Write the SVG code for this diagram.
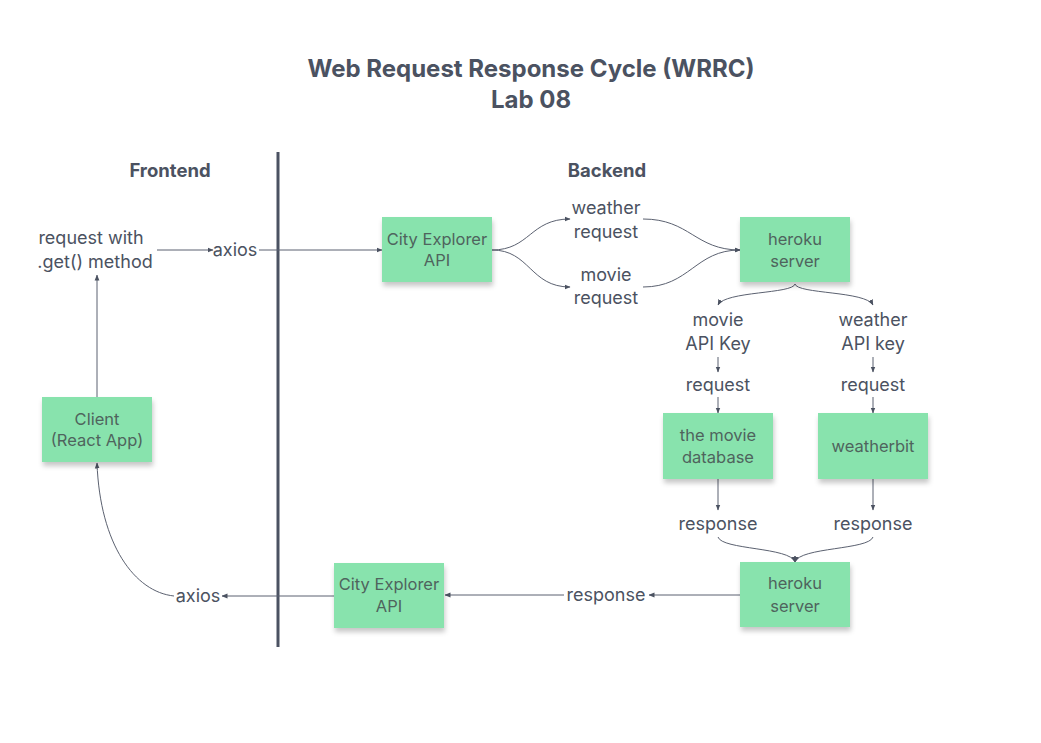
<svg xmlns="http://www.w3.org/2000/svg" width="1041" height="743" viewBox="0 0 1041 743">
<defs>
<filter id="sh" x="-20%" y="-20%" width="150%" height="160%">
<feDropShadow dx="1" dy="4" stdDeviation="2.5" flood-color="#000" flood-opacity="0.22"/>
</filter>
<marker id="ah" viewBox="0 0 6 6" refX="5.5" refY="3" markerWidth="6" markerHeight="6" markerUnits="userSpaceOnUse" orient="auto">
<path d="M0,0.6 L6,3 L0,5.4 Z" fill="#4b5261"/>
</marker>
<style>
.t{font-family:Inter,"Liberation Sans",sans-serif;fill:#4b5261;text-anchor:middle}
.h{font-weight:700}
.lb{font-size:18px}
.nt{font-size:16.5px;fill:#4f645d}
.box{fill:#88e3ad;filter:url(#sh)}
.c{fill:none;stroke:#5b6170;stroke-width:1;marker-end:url(#ah)}
</style>
</defs>
<rect width="1041" height="743" fill="#fff"/>
<g id="title">
<text class="t h" x="531" y="77" font-size="24">Web Request Response Cycle (WRRC)</text>
<text class="t h" x="531" y="108" font-size="24">Lab 08</text>
</g>
<g id="sections">
<text class="t h" x="170" y="177" font-size="18.5">Frontend</text>
<text class="t h" x="607" y="177" font-size="18.5">Backend</text>
<line x1="278" y1="152" x2="278" y2="647" stroke="#4b5262" stroke-width="3"/>
</g>
<g id="connectors">
<path class="c" d="M97,397 L97,275"/>
<path class="c" d="M157,250 L213,250"/>
<path class="c" d="M259,250 L382,250"/>
<path class="c" d="M492,250 C530,250 530,219 570,219"/>
<path class="c" d="M492,250 C530,250 530,287 570,287"/>
<path class="c" d="M643,219 C690,219 695,250 740,250"/>
<path class="c" d="M643,287 C690,287 695,250 740,250"/>
<path class="c" d="M795,284 C793,294 725,291 718,305"/>
<path class="c" d="M795,284 C797,294 866,291 873,305"/>
<path class="c" d="M718,357 L718,372"/>
<path class="c" d="M873,357 L873,372"/>
<path class="c" d="M718,397 L718,413"/>
<path class="c" d="M873,397 L873,413"/>
<path class="c" d="M718,479 L718,510"/>
<path class="c" d="M873,479 L873,510"/>
<path class="c" d="M718,537 C722,550 790,547 795,562"/>
<path class="c" d="M873,537 C869,550 800,547 795,562"/>
<path class="c" d="M740,595 L649,595"/>
<path class="c" d="M564,595 L445,595"/>
<path class="c" d="M334,596 L222,596"/>
<path class="c" d="M174,596 C135,592 100,545 97,463"/>
</g>
<g id="labels">
<text class="t lb" x="91" y="244">request with</text>
<text class="t lb" x="95" y="268">.get() method</text>
<text class="t lb" x="235" y="256">axios</text>
<text class="t lb" x="606" y="214">weather</text>
<text class="t lb" x="606" y="238">request</text>
<text class="t lb" x="606" y="281">movie</text>
<text class="t lb" x="606" y="304">request</text>
<text class="t lb" x="718" y="326">movie</text>
<text class="t lb" x="718" y="350">API Key</text>
<text class="t lb" x="873" y="326">weather</text>
<text class="t lb" x="873" y="350">API key</text>
<text class="t lb" x="718" y="391">request</text>
<text class="t lb" x="873" y="391">request</text>
<text class="t lb" x="718" y="530">response</text>
<text class="t lb" x="873" y="530">response</text>
<text class="t lb" x="606" y="601">response</text>
<text class="t lb" x="198" y="602">axios</text>
</g>
<g id="node-client">
<rect class="box" x="42" y="397" width="110" height="65"/>
<text class="t nt" x="97" y="425">Client</text>
<text class="t nt" x="97" y="446">(React App)</text>
</g>
<g id="node-cityapi-top">
<rect class="box" x="382" y="217" width="110" height="65"/>
<text class="t nt" x="437" y="245">City Explorer</text>
<text class="t nt" x="437" y="266">API</text>
</g>
<g id="node-heroku-top">
<rect class="box" x="740" y="217" width="110" height="65"/>
<text class="t nt" x="795" y="245">heroku</text>
<text class="t nt" x="795" y="267">server</text>
</g>
<g id="node-moviedb">
<rect class="box" x="663" y="413" width="110" height="66"/>
<text class="t nt" x="718" y="441">the movie</text>
<text class="t nt" x="718" y="463">database</text>
</g>
<g id="node-weatherbit">
<rect class="box" x="818" y="413" width="110" height="66"/>
<text class="t nt" x="873" y="452">weatherbit</text>
</g>
<g id="node-heroku-bottom">
<rect class="box" x="740" y="562" width="110" height="65"/>
<text class="t nt" x="795" y="589">heroku</text>
<text class="t nt" x="795" y="612">server</text>
</g>
<g id="node-cityapi-bottom">
<rect class="box" x="334" y="563" width="110" height="65"/>
<text class="t nt" x="389" y="590">City Explorer</text>
<text class="t nt" x="389" y="612">API</text>
</g>
</svg>
